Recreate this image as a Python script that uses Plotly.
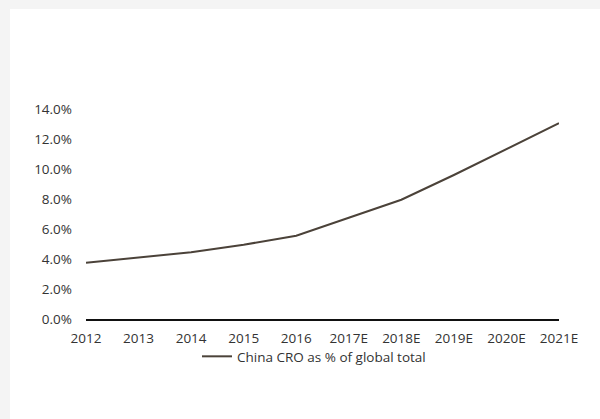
import plotly.graph_objects as go

years = ["2012", "2013", "2014", "2015", "2016", "2017E", "2018E", "2019E", "2020E", "2021E"]
china_cro_share = [3.75, 4.1, 4.45, 4.95, 5.55, 6.75, 7.95, 9.6, 11.3, 13.05]
y_ticks = [0, 2, 4, 6, 8, 10, 12, 14]
series_name = "China CRO as % of global total"

W, H = 600, 419
ml, mr, mt, mb = 86, 41, 109, 100
pw, ph = W - ml - mr, H - mt - mb

def px_x(px):
    return (px - ml) / pw

def px_y(py):
    return (H - mb - py) / ph

gray = "#f4f4f4"
fig = go.Figure()
fig.add_trace(go.Scatter(
    x=years, y=china_cro_share, mode="lines", name=series_name,
    line=dict(color="#4b4239", width=2),
))

fig.update_layout(
    width=W, height=H,
    margin=dict(l=ml, r=mr, t=mt, b=mb),
    paper_bgcolor="white",
    plot_bgcolor="white",
    font=dict(family="Open Sans", size=13.5, color="#333333"),
    showlegend=True,
    legend=dict(orientation="h", x=0.482, xanchor="center", y=-0.105, yanchor="top",
                bgcolor="rgba(0,0,0,0)", font=dict(size=13.5, color="#333333")),
    shapes=[
        dict(type="rect", xref="paper", yref="paper", layer="below",
             x0=px_x(0), x1=px_x(W), y0=px_y(9), y1=px_y(0),
             fillcolor=gray, line=dict(width=0)),
        dict(type="rect", xref="paper", yref="paper", layer="below",
             x0=px_x(0), x1=px_x(10), y0=px_y(H), y1=px_y(0),
             fillcolor=gray, line=dict(width=0)),
    ],
)
fig.update_xaxes(
    type="category", range=[0, 9], showgrid=False, zeroline=False,
    showline=True, linecolor="#111111", linewidth=2,
    ticks="", ticklabelstandoff=6,
)
fig.update_yaxes(
    range=[0, 14], tickvals=y_ticks, ticktext=[f"{v:.1f}%" for v in y_ticks],
    showgrid=False, zeroline=False, showline=False, ticks="",
    ticklabelstandoff=13,
)

fig.write_html(
    "out.html",
    config={"displayModeBar": False},
    post_script=(
        "document.body.style.margin='0';document.body.style.padding='0';"
        "document.body.style.overflow='hidden';"
        "document.documentElement.style.overflow='hidden';"
    ),
)
